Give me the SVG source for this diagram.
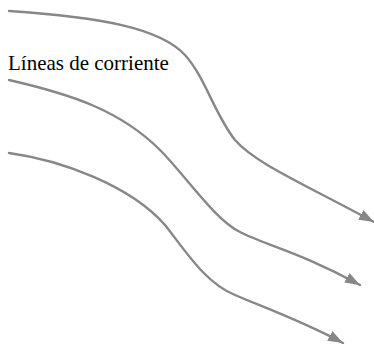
<svg xmlns="http://www.w3.org/2000/svg" width="374" height="344" viewBox="0 0 374 344">
<style>
.s{fill:none;stroke:#878787;stroke-width:2.4;stroke-linecap:round}
.t{font-family:"Liberation Serif",serif;font-size:21px;fill:#000}
</style>
<defs>
<marker id="ah" markerWidth="16" markerHeight="12" refX="15" refY="5.5" orient="auto" markerUnits="userSpaceOnUse">
<path d="M0,0 L15,5.5 L0,11 Z" fill="#878787"/>
</marker>
</defs>
<rect width="374" height="344" fill="#fff"/>
<g id="connectors">
<path class="s" marker-end="url(#ah)" d="M9,11 C100,17 160,28 185,55 C205,77 215,115 235,140 C255,163 300,182 374,222"/>
<path class="s" marker-end="url(#ah)" d="M9,80 C70,94 120,110 160,150 C185,175 215,220 240,232 C265,245 300,252 360,285"/>
<path class="s" marker-end="url(#ah)" d="M9,153 C60,160 130,185 165,225 C185,250 205,283 235,295 C260,306 300,320 343,343"/>
</g>
<g id="label">
<text class="t" x="8" y="70">Líneas de corriente</text>
</g>
</svg>
